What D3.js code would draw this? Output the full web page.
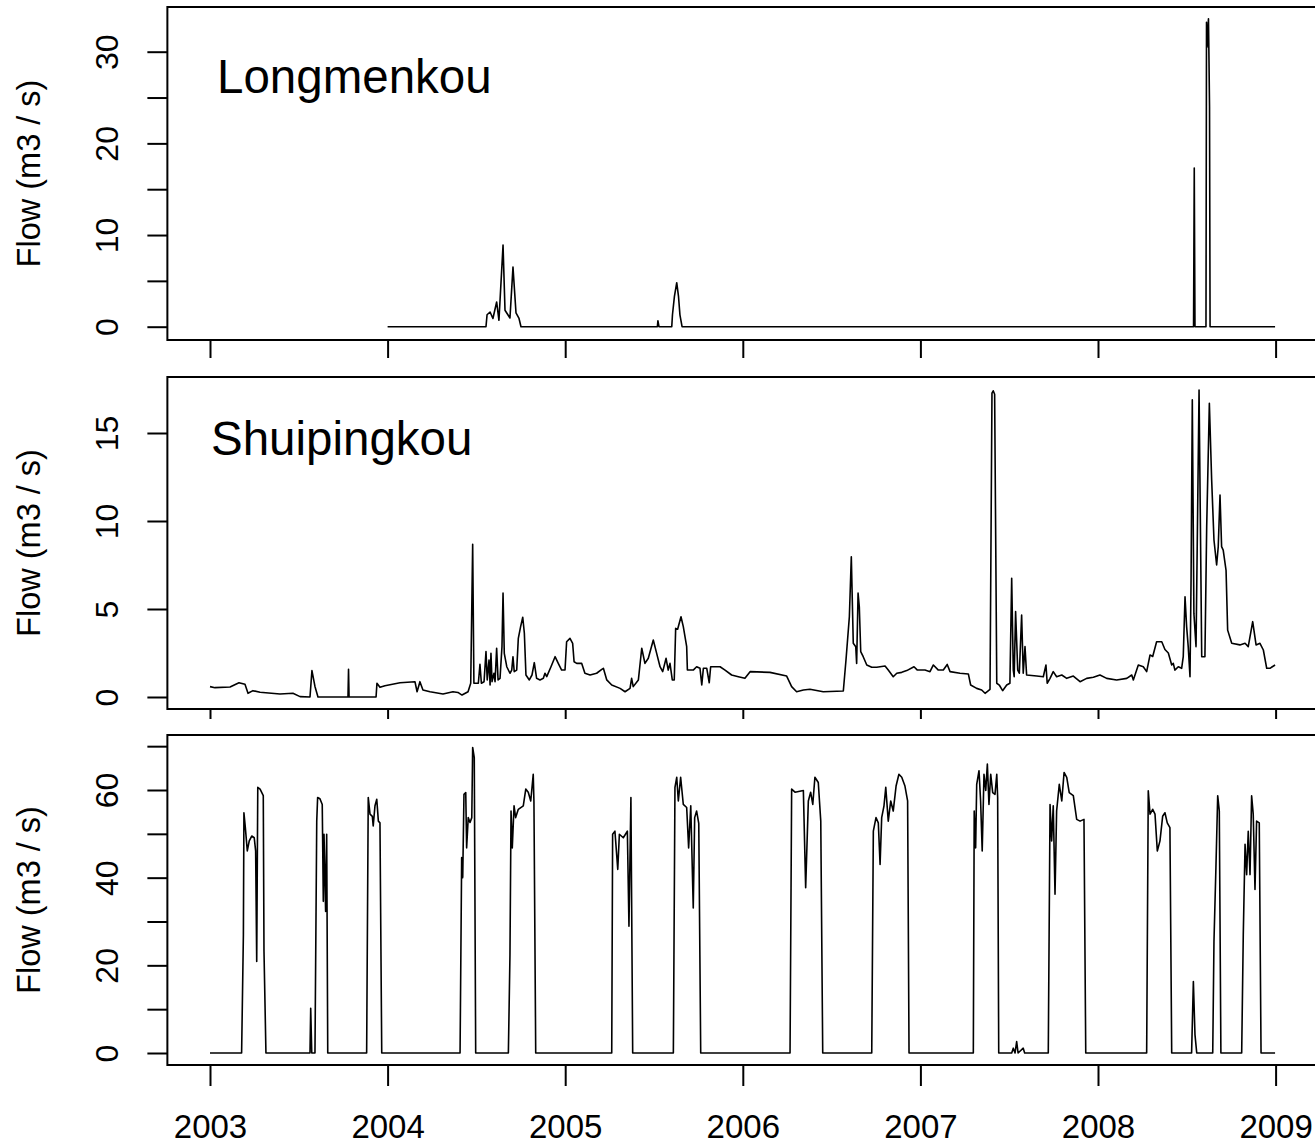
<!DOCTYPE html>
<html>
<head>
<meta charset="utf-8">
<script src="https://cdn.jsdelivr.net/npm/d3@7"></script>
<style>
  html, body { margin: 0; padding: 0; background: #ffffff; }
  svg { display: block; }
  text { font-family: "Liberation Sans", Arial, sans-serif; fill: #000; }
</style>
</head>
<body>
<svg id="chart" width="1315" height="1144"></svg>
<script>
// Daily flow series, stored as [decimal year, flow in m3/s]
const years = [2003, 2004, 2005, 2006, 2007, 2008, 2009];

const longmenkou = [
  [2004.000, 0], [2004.554, 0], [2004.560, 1.3], [2004.577, 1.6], [2004.593, 0.9],
  [2004.614, 2.7], [2004.627, 0.7], [2004.650, 8.9], [2004.661, 1.8], [2004.689, 0.95],
  [2004.706, 6.5], [2004.723, 1.5], [2004.740, 0.9], [2004.751, 0],
  [2005.519, 0], [2005.522, 0.65], [2005.528, 0],
  [2005.600, 0], [2005.604, 1.3], [2005.615, 3.3], [2005.628, 4.8], [2005.638, 3.3],
  [2005.646, 1.3], [2005.658, 0],
  [2008.538, 0], [2008.542, 17.3], [2008.546, 0],
  [2008.608, 0], [2008.611, 33.2], [2008.614, 30.5], [2008.617, 31.0], [2008.620, 32.8],
  [2008.622, 33.6], [2008.625, 29.0], [2008.628, 24.0], [2008.631, 0], [2008.997, 0]
];

const shuipingkou = [
  [2003.000, 0.59], [2003.028, 0.53], [2003.113, 0.57], [2003.163, 0.81], [2003.197, 0.72],
  [2003.214, 0.21], [2003.242, 0.36], [2003.282, 0.27], [2003.394, 0.17], [2003.467, 0.21],
  [2003.507, 0.02], [2003.563, 0], [2003.574, 1.5], [2003.591, 0.6], [2003.608, 0],
  [2003.777, 0], [2003.780, 1.57], [2003.783, 0], [2003.935, 0], [2003.940, 0.78],
  [2003.957, 0.55], [2003.985, 0.64], [2004.070, 0.81], [2004.154, 0.87], [2004.166, 0.3],
  [2004.182, 0.87], [2004.199, 0.4], [2004.239, 0.3], [2004.312, 0.17], [2004.368, 0.3],
  [2004.396, 0.26], [2004.419, 0.11], [2004.453, 0.3], [2004.468, 0.78], [2004.479, 8.68],
  [2004.486, 0.78], [2004.511, 0.78], [2004.520, 1.86], [2004.528, 0.78], [2004.543, 0.87],
  [2004.554, 2.58], [2004.561, 0.97], [2004.571, 2.1], [2004.577, 0.68], [2004.582, 2.48],
  [2004.588, 0.87], [2004.599, 1.35], [2004.605, 0.87], [2004.614, 2.77], [2004.622, 0.97],
  [2004.633, 1.06], [2004.644, 2.86], [2004.650, 5.9], [2004.657, 2.48], [2004.671, 1.72],
  [2004.689, 1.35], [2004.699, 1.53], [2004.706, 2.29], [2004.713, 1.44], [2004.727, 1.53],
  [2004.736, 3.33], [2004.749, 4.0], [2004.761, 4.53], [2004.770, 3.62], [2004.779, 1.25],
  [2004.798, 0.97], [2004.813, 1.25], [2004.826, 1.95], [2004.839, 1.06], [2004.858, 0.97],
  [2004.877, 1.06], [2004.886, 1.35], [2004.896, 1.16], [2004.920, 1.72], [2004.943, 2.29],
  [2004.961, 1.91], [2004.980, 1.53], [2004.999, 1.53], [2005.008, 3.14], [2005.027, 3.33],
  [2005.042, 3.05], [2005.050, 2.0], [2005.065, 1.91], [2005.093, 1.91], [2005.111, 1.35],
  [2005.140, 1.25], [2005.177, 1.35], [2005.206, 1.57], [2005.215, 1.63], [2005.234, 0.97],
  [2005.262, 0.68], [2005.309, 0.49], [2005.337, 0.3], [2005.365, 0.49], [2005.374, 1.06],
  [2005.383, 0.59], [2005.412, 0.97], [2005.431, 2.77], [2005.449, 1.91], [2005.468, 2.2],
  [2005.496, 3.24], [2005.515, 2.48], [2005.534, 1.72], [2005.549, 1.44], [2005.568, 2.2],
  [2005.580, 1.53], [2005.590, 1.91], [2005.603, 0.97], [2005.614, 0.97], [2005.622, 3.9],
  [2005.633, 3.85], [2005.652, 4.56], [2005.665, 4.0], [2005.684, 2.86], [2005.688, 1.53],
  [2005.721, 1.53], [2005.740, 1.72], [2005.759, 1.63], [2005.769, 0.68], [2005.778, 1.63],
  [2005.797, 1.63], [2005.811, 0.81], [2005.819, 1.72], [2005.872, 1.72], [2005.900, 1.53],
  [2005.937, 1.25], [2005.975, 1.15], [2006.012, 1.06], [2006.041, 1.44], [2006.153, 1.4],
  [2006.247, 1.19], [2006.275, 0.59], [2006.303, 0.3], [2006.341, 0.4], [2006.378, 0.44],
  [2006.453, 0.3], [2006.566, 0.34], [2006.581, 2.1], [2006.600, 4.56], [2006.611, 7.97],
  [2006.622, 3.05], [2006.636, 2.86], [2006.641, 1.9], [2006.649, 5.9], [2006.656, 5.13],
  [2006.664, 2.58], [2006.678, 2.29], [2006.698, 1.82], [2006.726, 1.69], [2006.754, 1.69],
  [2006.801, 1.76], [2006.819, 1.53], [2006.847, 1.15], [2006.867, 1.35], [2006.895, 1.4],
  [2006.923, 1.5], [2006.964, 1.72], [2006.983, 1.53], [2007.026, 1.53], [2007.054, 1.44],
  [2007.073, 1.82], [2007.101, 1.53], [2007.129, 1.53], [2007.151, 1.85], [2007.167, 1.44],
  [2007.223, 1.35], [2007.270, 1.31], [2007.283, 0.68], [2007.317, 0.49], [2007.345, 0.4],
  [2007.364, 0.21], [2007.392, 0.44], [2007.403, 17.26], [2007.410, 17.4], [2007.418, 17.2],
  [2007.430, 0.78],
  [2007.444, 0.68], [2007.463, 0.36], [2007.486, 0.68], [2007.504, 0.78], [2007.514, 6.74],
  [2007.523, 1.53], [2007.528, 1.15], [2007.536, 4.85], [2007.548, 1.53], [2007.557, 1.35],
  [2007.570, 4.66], [2007.579, 1.35], [2007.589, 2.86], [2007.598, 1.25], [2007.655, 1.19],
  [2007.692, 1.15], [2007.707, 1.82], [2007.714, 0.78], [2007.730, 1.06], [2007.748, 1.44],
  [2007.767, 1.15], [2007.796, 1.25], [2007.824, 1.06], [2007.861, 1.19], [2007.899, 0.87],
  [2007.936, 1.06], [2007.974, 1.12], [2008.011, 1.25], [2008.049, 1.06], [2008.105, 0.97],
  [2008.162, 1.06], [2008.190, 1.25], [2008.199, 0.97], [2008.227, 1.82], [2008.255, 1.72],
  [2008.274, 1.44], [2008.293, 2.39], [2008.308, 2.3], [2008.330, 3.14], [2008.359, 3.14],
  [2008.377, 2.7], [2008.396, 2.5], [2008.415, 1.82], [2008.424, 1.91], [2008.433, 1.53],
  [2008.452, 1.72], [2008.471, 1.63], [2008.480, 2.29], [2008.490, 5.7], [2008.499, 4.0],
  [2008.508, 2.86], [2008.518, 1.15], [2008.524, 6.65], [2008.531, 16.88], [2008.540, 4.75],
  [2008.552, 2.86], [2008.569, 17.44], [2008.584, 2.29], [2008.602, 2.29], [2008.612, 9.68],
  [2008.627, 16.69], [2008.640, 12.33], [2008.653, 8.92], [2008.668, 7.5], [2008.677, 8.54],
  [2008.687, 11.48], [2008.696, 8.54], [2008.705, 8.35], [2008.721, 7.2], [2008.730, 3.8],
  [2008.753, 3.05], [2008.799, 2.96], [2008.828, 3.05], [2008.846, 2.86], [2008.871, 4.28],
  [2008.890, 2.96], [2008.912, 3.05], [2008.931, 2.67], [2008.950, 1.63], [2008.968, 1.63],
  [2008.997, 1.82]
];

const thirdFlow = [
  [2003.000, 0], [2003.178, 0], [2003.188, 27], [2003.191, 54.8], [2003.199, 51.4],
  [2003.210, 46.1], [2003.221, 48.4], [2003.235, 49.5], [2003.249, 49.1], [2003.257, 46.1],
  [2003.263, 20.9], [2003.269, 60.6], [2003.282, 60.2], [2003.300, 58.7], [2003.304, 23.2],
  [2003.315, 0], [2003.563, 0], [2003.567, 10.2], [2003.573, 0], [2003.591, 0],
  [2003.601, 52.9], [2003.606, 58.3], [2003.619, 58], [2003.632, 56.7], [2003.638, 34.6],
  [2003.642, 49.9], [2003.651, 32.3], [2003.657, 49.9], [2003.663, 0], [2003.882, 0],
  [2003.891, 58.3], [2003.901, 54.5], [2003.914, 54], [2003.919, 51.8], [2003.929, 56.4],
  [2003.939, 57.9], [2003.948, 52.9], [2003.957, 52.5], [2003.967, 0],
  [2004.408, 0], [2004.417, 44.6], [2004.423, 40], [2004.430, 59], [2004.440, 59.4],
  [2004.445, 46.8], [2004.454, 53.7], [2004.464, 52.6], [2004.474, 53.7], [2004.479, 69.7],
  [2004.488, 67.4], [2004.496, 0], [2004.680, 0], [2004.689, 22.4], [2004.695, 55.2],
  [2004.702, 46.8], [2004.712, 56.4], [2004.721, 53.7], [2004.736, 55.6], [2004.764, 56.4],
  [2004.778, 60.2], [2004.792, 59.5], [2004.806, 57.5], [2004.820, 63.6], [2004.824, 57.4],
  [2004.834, 0],
  [2005.262, 0], [2005.267, 49.9], [2005.280, 50.6], [2005.296, 41.9], [2005.305, 49.9],
  [2005.327, 49.1], [2005.350, 50.6], [2005.359, 28.9], [2005.370, 58.3], [2005.380, 0],
  [2005.609, 0], [2005.618, 60.6], [2005.628, 62.9], [2005.637, 57.5], [2005.650, 62.9],
  [2005.665, 56.7], [2005.684, 56], [2005.695, 46.8], [2005.707, 56.4], [2005.721, 33.1],
  [2005.729, 53.7], [2005.740, 55.2], [2005.752, 52.4], [2005.763, 0],
  [2006.266, 0], [2006.275, 60.2], [2006.294, 59.5], [2006.341, 59.9], [2006.354, 37.7],
  [2006.369, 57.5], [2006.382, 59.5], [2006.394, 56.7], [2006.406, 62.9], [2006.425, 61.7],
  [2006.439, 52.9], [2006.450, 0], [2006.726, 0], [2006.735, 50.6], [2006.750, 53.7],
  [2006.763, 52.5], [2006.773, 43], [2006.782, 53.7], [2006.795, 56.4], [2006.805, 60.6],
  [2006.819, 52.9], [2006.833, 57.5], [2006.847, 55.2], [2006.863, 60.9], [2006.879, 63.6],
  [2006.895, 62.9], [2006.913, 60.9], [2006.928, 57.5], [2006.936, 0],
  [2007.298, 0], [2007.303, 55.2], [2007.311, 46.8], [2007.317, 61.3], [2007.330, 64.4],
  [2007.339, 57.5], [2007.348, 46.1], [2007.358, 63.6], [2007.368, 59.9], [2007.377, 65.9],
  [2007.386, 56.7], [2007.396, 63.6], [2007.407, 59.4], [2007.420, 59], [2007.430, 63.6],
  [2007.435, 58.3], [2007.441, 0], [2007.514, 0], [2007.523, 1.1], [2007.533, 0],
  [2007.542, 2.6], [2007.550, 0], [2007.579, 1.1], [2007.587, 0], [2007.720, 0],
  [2007.730, 56.7], [2007.739, 48.4], [2007.748, 56.4], [2007.758, 36.2], [2007.767, 55.2],
  [2007.782, 61.3], [2007.796, 57.5], [2007.809, 64], [2007.824, 62.9], [2007.838, 59.4],
  [2007.861, 58.7], [2007.880, 53.3], [2007.899, 52.9], [2007.921, 53.3], [2007.931, 0],
  [2008.274, 0], [2008.283, 59.8], [2008.293, 54.5], [2008.308, 55.6], [2008.321, 54.5],
  [2008.334, 46.1], [2008.349, 48.4], [2008.364, 54], [2008.377, 54.8], [2008.390, 52.5],
  [2008.405, 51.4], [2008.415, 0], [2008.527, 0], [2008.537, 16.3], [2008.546, 4.2],
  [2008.556, 0], [2008.646, 0], [2008.653, 25.5], [2008.664, 42.3], [2008.674, 58.7],
  [2008.683, 55.2], [2008.692, 0], [2008.809, 0], [2008.818, 27], [2008.828, 47.6],
  [2008.837, 40.7], [2008.846, 50.6], [2008.856, 40.7], [2008.865, 58.7], [2008.874, 54.5],
  [2008.884, 37.3], [2008.893, 52.9], [2008.908, 52.5], [2008.918, 0], [2008.997, 0]
];

// Panel layout and axis settings
const panels = [
  { data: longmenkou, name: "Longmenkou", top: 7, bottom: 340,
    yRef: [0, 30], yPix: [326.7, 51.7], ticks: [0, 5, 10, 15, 20, 25, 30], labelEvery: 10,
    xTick: 18, labelPos: [217, 93] },
  { data: shuipingkou, name: "Shuipingkou", top: 377, bottom: 709,
    yRef: [0, 15], yPix: [697, 433], ticks: [0, 5, 10, 15], labelEvery: 5,
    xTick: 10, labelPos: [211, 455] },
  { data: thirdFlow, name: null, top: 735, bottom: 1065,
    yRef: [0, 60], yPix: [1053, 790], ticks: [0, 10, 20, 30, 40, 50, 60, 70], labelEvery: 20,
    xTick: 21, labelPos: null }
];

const svg = d3.select("#chart");
svg.append("rect").attr("width", 1315).attr("height", 1144).attr("fill", "#fff");

const x = d3.scaleLinear().domain([2003, 2009]).range([210, 1275.6]);
const xLeft = x(2002.76), xRight = x(2009.24);

panels.forEach((p, i) => {
  const y = d3.scaleLinear().domain(p.yRef).range(p.yPix);

  // flow line
  const line = d3.line().x(d => x(d[0])).y(d => y(d[1]));
  svg.append("path")
    .datum(p.data)
    .attr("d", line)
    .attr("fill", "none")
    .attr("stroke", "#000")
    .attr("stroke-width", 1.6)
    .attr("stroke-linejoin", "round");

  // plot frame
  svg.append("rect")
    .attr("x", xLeft).attr("y", p.top)
    .attr("width", xRight - xLeft).attr("height", p.bottom - p.top)
    .attr("fill", "none").attr("stroke", "#000").attr("stroke-width", 2);

  // y axis
  const yAxis = d3.axisLeft(y)
    .tickValues(p.ticks)
    .tickSize(20)
    .tickFormat(v => (v % p.labelEvery === 0 ? d3.format("d")(v) : ""));
  const gy = svg.append("g").attr("transform", `translate(${xLeft},0)`).call(yAxis);
  gy.select(".domain").remove();
  gy.selectAll(".tick line").attr("stroke", "#000").attr("stroke-width", 2);
  gy.selectAll(".tick text")
    .attr("x", 0).attr("dy", 0)
    .attr("text-anchor", "middle")
    .attr("transform", "translate(-49,0) rotate(-90)")
    .style("font-size", "32px")
    .style("font-family", '"Liberation Sans", Arial, sans-serif');

  // y axis title
  svg.append("text")
    .attr("transform", `translate(40,${(p.top + p.bottom) / 2}) rotate(-90)`)
    .attr("text-anchor", "middle")
    .style("font-size", "32.5px")
    .text("Flow (m3 / s)");

  // x axis
  const last = i === panels.length - 1;
  const xAxis = d3.axisBottom(x)
    .tickValues(years)
    .tickSize(p.xTick)
    .tickFormat(last ? d3.format("d") : () => "");
  const gx = svg.append("g").attr("transform", `translate(0,${p.bottom})`).call(xAxis);
  gx.select(".domain").remove();
  gx.selectAll(".tick line").attr("stroke", "#000").attr("stroke-width", 2);
  gx.selectAll(".tick text")
    .attr("y", 73).attr("dy", 0)
    .style("font-size", "33px")
    .style("font-family", '"Liberation Sans", Arial, sans-serif');

  // station name
  if (p.name) {
    svg.append("text")
      .attr("x", p.labelPos[0]).attr("y", p.labelPos[1])
      .style("font-size", "47.5px")
      .text(p.name);
  }
});
</script>
</body>
</html>
